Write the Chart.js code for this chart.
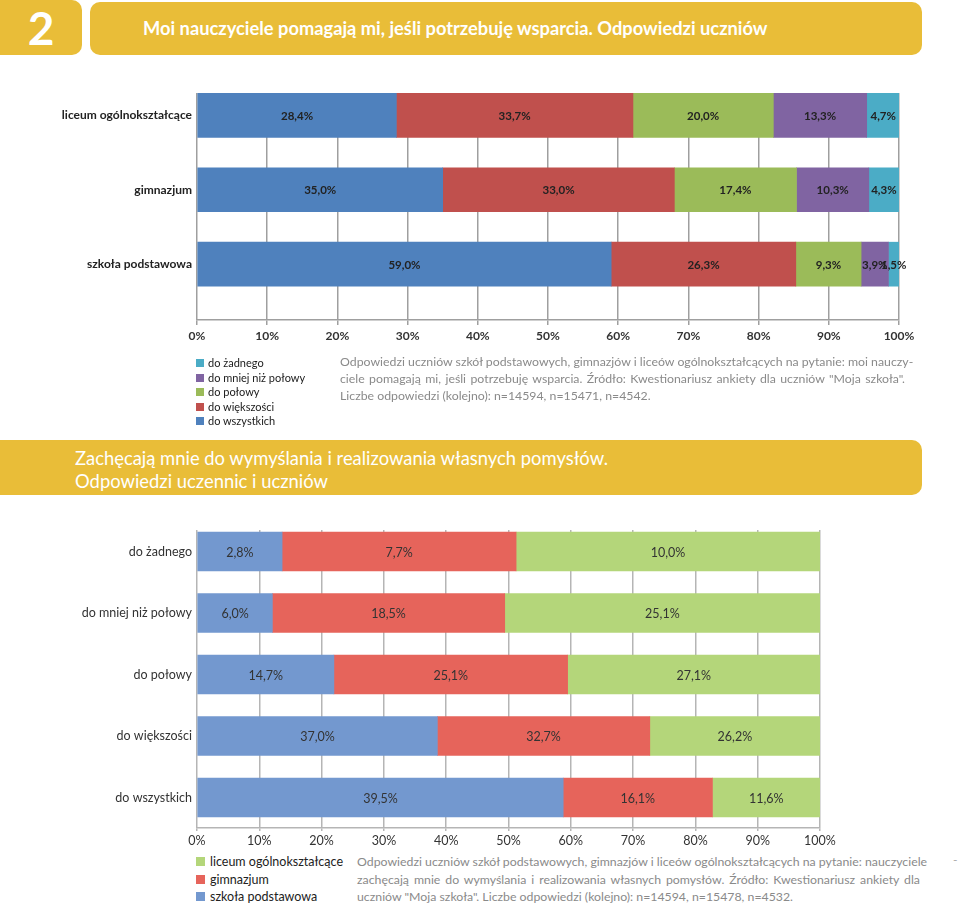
<!DOCTYPE html>
<html lang="pl">
<head>
<meta charset="utf-8">
<title>Moi nauczyciele</title>
<script src="https://cdn.jsdelivr.net/npm/chart.js@4.4.1/dist/chart.umd.min.js"></script>
<style>
  html, body { margin: 0; padding: 0; background: #fff; }
  body { width: 960px; height: 908px; position: relative; overflow: hidden; font-family: Lato, sans-serif; }
  .abs { position: absolute; }
  .numbox { left: 0; top: 0; width: 82px; height: 55px; background: #E9BD38; border-radius: 0 10px 10px 0;
            color: #fff; font: bold 46px Lato, sans-serif; text-align: center; line-height: 56px; }
  .bar1 { left: 90px; top: 2px; width: 832px; height: 53px; background: #E9BD38; border-radius: 10px;
          color: #fff; font: bold 18.3px Lato, sans-serif; line-height: 53px; box-sizing: border-box; padding-left: 53px; }
  .bar2 { left: 0; top: 440px; width: 922px; height: 55px; background: #E9BD38; border-radius: 0 10px 10px 0;
          color: #fff; font: 18.4px Lato, sans-serif; box-sizing: border-box; padding: 7px 0 0 75px; line-height: 23px; }
  .legend div { height: 14.5px; line-height: 14.5px; white-space: nowrap; color: #1a1a1a; }
  .legend span { display: inline-block; width: 8px; height: 8px; margin-right: 4px; }
  .legend2 div { height: 17.5px; line-height: 17.5px; font-size: 12.5px; color: #222; }
  .legend2 span { width: 9px; height: 9px; margin-right: 5px; }
  .note { color: #8a8a8a; font: 12.3px Lato, sans-serif; }
  .note div { text-align: justify; text-align-last: justify; white-space: nowrap; }
  .note div.last { text-align-last: left; }
</style>
</head>
<body>
<div class="abs numbox">2</div>
<div class="abs bar1">Moi nauczyciele pomagają mi, jeśli potrzebuję wsparcia. Odpowiedzi uczniów</div>

<canvas id="chart-1" class="abs" style="left:0;top:60px;width:960px;height:300px"></canvas>
<div id="legend-1" class="abs legend" style="left:196px;top:356px;font-size:11px"></div>
<div class="abs note" style="left:340px;top:353px;width:565px;line-height:17px">
  <div>Odpowiedzi uczniów szkół podstawowych, gimnazjów i liceów ogólnokształcących na pytanie: moi nauczy-</div>
  <div>ciele pomagają mi, jeśli potrzebuję wsparcia. Źródło: Kwestionariusz ankiety dla uczniów "Moja szkoła".</div>
  <div class="last">Liczbe odpowiedzi (kolejno): n=14594, n=15471, n=4542.</div>
</div>

<div class="abs bar2">Zachęcają mnie do wymyślania i realizowania własnych pomysłów.<br>Odpowiedzi uczennic i uczniów</div>

<canvas id="chart-2" class="abs" style="left:0;top:500px;width:960px;height:350px"></canvas>
<div id="legend-2" class="abs legend legend2" style="left:196px;top:853px"></div>
<div class="abs note" style="left:357px;top:853px;width:563px;line-height:17.5px">
  <div>Odpowiedzi uczniów szkół podstawowych, gimnazjów i liceów ogólnokształcących na pytanie: nauczyciele</div>
  <div>zachęcają mnie do wymyślania i realizowania własnych pomysłów. Źródło: Kwestionariusz ankiety dla</div>
  <div class="last">uczniów "Moja szkoła". Liczbe odpowiedzi (kolejno): n=14594, n=15478, n=4532.</div>
</div>
<div class="abs" style="left:953px;top:852px;color:#aaa;font-size:12px">-</div>

<script>
// Wykres 1: typ szkoły (od góry do dołu)
const schools1 = ["liceum ogólnokształcące", "gimnazjum", "szkoła podstawowa"];
const answers1 = ["do wszystkich", "do większości", "do połowy", "do mniej niż połowy", "do żadnego"];
const colors1 = ["#4F81BD", "#C0504D", "#9BBB59", "#8064A2", "#4BACC6"];
const allTeachers = [28.4, 35.0, 59.0];
const mostTeachers = [33.7, 33.0, 26.3];
const halfTeachers = [20.0, 17.4, 9.3];
const lessThanHalf = [13.3, 10.3, 3.9];
const noTeachers = [4.7, 4.3, 1.5];
const series1 = [allTeachers, mostTeachers, halfTeachers, lessThanHalf, noTeachers];

// Wykres 2: odpowiedzi (od góry do dołu), serie wg typu szkoły
const answers2 = ["do żadnego", "do mniej niż połowy", "do połowy", "do większości", "do wszystkich"];
const schools2 = ["szkoła podstawowa", "gimnazjum", "liceum ogólnokształcące"];
const colors2 = ["#7398CF", "#E6645B", "#B4D67A"];
const primarySchool = [2.8, 6.0, 14.7, 37.0, 39.5];
const middleSchool = [7.7, 18.5, 25.1, 32.7, 16.1];
const highSchool = [10.0, 25.1, 27.1, 26.2, 11.6];
const series2 = [primarySchool, middleSchool, highSchool];

const percentTicks = [0, 10, 20, 30, 40, 50, 60, 70, 80, 90, 100];

function fmt(v) {
    return v.toFixed(1).replace(".", ",") + "%";
}

// Etykiety wartości na środku segmentów
const valueLabels = {
    id: "valueLabels",
    afterDatasetsDraw(chart, args, opts) {
        const ctx = chart.ctx;
        ctx.save();
        ctx.font = opts.font;
        ctx.fillStyle = opts.color;
        ctx.textAlign = "center";
        ctx.textBaseline = "middle";
        chart.data.datasets.forEach((ds, i) => {
            const meta = chart.getDatasetMeta(i);
            meta.data.forEach((el, j) => {
                ctx.fillText(fmt(ds.rawValues[j]), (el.x + el.base) / 2, el.y + 1);
            });
        });
        ctx.restore();
    }
};

function buildLegend(id, names, colors, order) {
    const box = document.getElementById(id);
    order.forEach(i => {
        const row = document.createElement("div");
        row.innerHTML = '<span style="background:' + colors[i] + '"></span>' + names[i];
        box.appendChild(row);
    });
}

function makeChart(canvasId, cfg) {
    const ctx = document.getElementById(canvasId).getContext("2d");
    return new Chart(ctx, {
        type: "bar",
        data: { datasets: cfg.datasets },
        options: {
            indexAxis: "y",
            responsive: false,
            animation: false,
            layout: { padding: { top: cfg.padTop, right: cfg.padRight, left: 0, bottom: 0 } },
            plugins: {
                legend: { display: false },
                tooltip: { enabled: false },
                valueLabels: { font: cfg.labelFont, color: cfg.labelColor }
            },
            scales: {
                x: {
                    stacked: true,
                    min: 0,
                    max: 100,
                    afterBuildTicks: axis => { axis.ticks = percentTicks.map(v => ({ value: v })); },
                    afterFit: axis => { axis.height = cfg.xHeight; },
                    grid: { color: cfg.gridColor, lineWidth: 1.5, tickLength: cfg.tickLength },
                    border: { display: true, color: cfg.gridColor, width: 1.5 },
                    ticks: {
                        padding: cfg.tickPad,
                        maxRotation: 0,
                        autoSkip: false,
                        color: "#333",
                        font: cfg.tickFont,
                        callback: v => v + "%"
                    }
                },
                y: {
                    type: "linear",
                    stacked: true,
                    reverse: true,
                    offset: false,
                    min: cfg.yMin,
                    max: cfg.yMax,
                    afterBuildTicks: axis => { axis.ticks = cfg.categories.map((c, i) => ({ value: i })); },
                    afterFit: axis => { axis.width = 197; },
                    grid: { display: false, drawTicks: false, offset: false },
                    border: { display: false },
                    ticks: {
                        padding: 5,
                        color: cfg.catColor,
                        font: cfg.catFont,
                        callback: v => cfg.categories[v]
                    }
                }
            }
        },
        plugins: [valueLabels]
    });
}

// Wykres 1 - wartości bezpośrednio w procentach
const datasets1 = series1.map((vals, i) => ({
    label: answers1[i],
    data: vals.map((v, j) => ({ x: v, y: j })),
    rawValues: vals,
    backgroundColor: colors1[i],
    barThickness: 44
}));

makeChart("chart-1", {
    datasets: datasets1,
    categories: schools1,
    padTop: 33, padRight: 61, xHeight: 40,
    yMin: -0.3, yMax: 2.75,
    gridColor: "#9f9f9f", tickLength: 5, tickPad: 4,
    tickFont: { family: "Lato", size: 12, weight: "bold" },
    catFont: { family: "Lato", size: 12, weight: "bold" },
    catColor: "#222",
    labelFont: "bold 11.5px Lato",
    labelColor: "#222"
});

// Wykres 2 - 100% skumulowany (udział w sumie wiersza), etykiety z wartościami
const rowTotals = answers2.map((a, j) => series2.reduce((s, vals) => s + vals[j], 0));
const datasets2 = series2.map((vals, i) => ({
    label: schools2[i],
    data: vals.map((v, j) => ({ x: v / rowTotals[j] * 100, y: j })),
    rawValues: vals,
    backgroundColor: colors2[i],
    barThickness: 39
}));

makeChart("chart-2", {
    datasets: datasets2,
    categories: answers2,
    padTop: 30, padRight: 140, xHeight: 22,
    yMin: -0.35, yMax: 4.496,
    gridColor: "#b5b5b5", tickLength: 3, tickPad: 2,
    tickFont: { family: "Lato", size: 12.5 },
    catFont: { family: "Lato", size: 12.5 },
    catColor: "#333",
    labelFont: "12.5px Lato",
    labelColor: "#333"
});

buildLegend("legend-1", answers1, colors1, [4, 3, 2, 1, 0]);
buildLegend("legend-2", schools2, colors2, [2, 1, 0]);
</script>
</body>
</html>
